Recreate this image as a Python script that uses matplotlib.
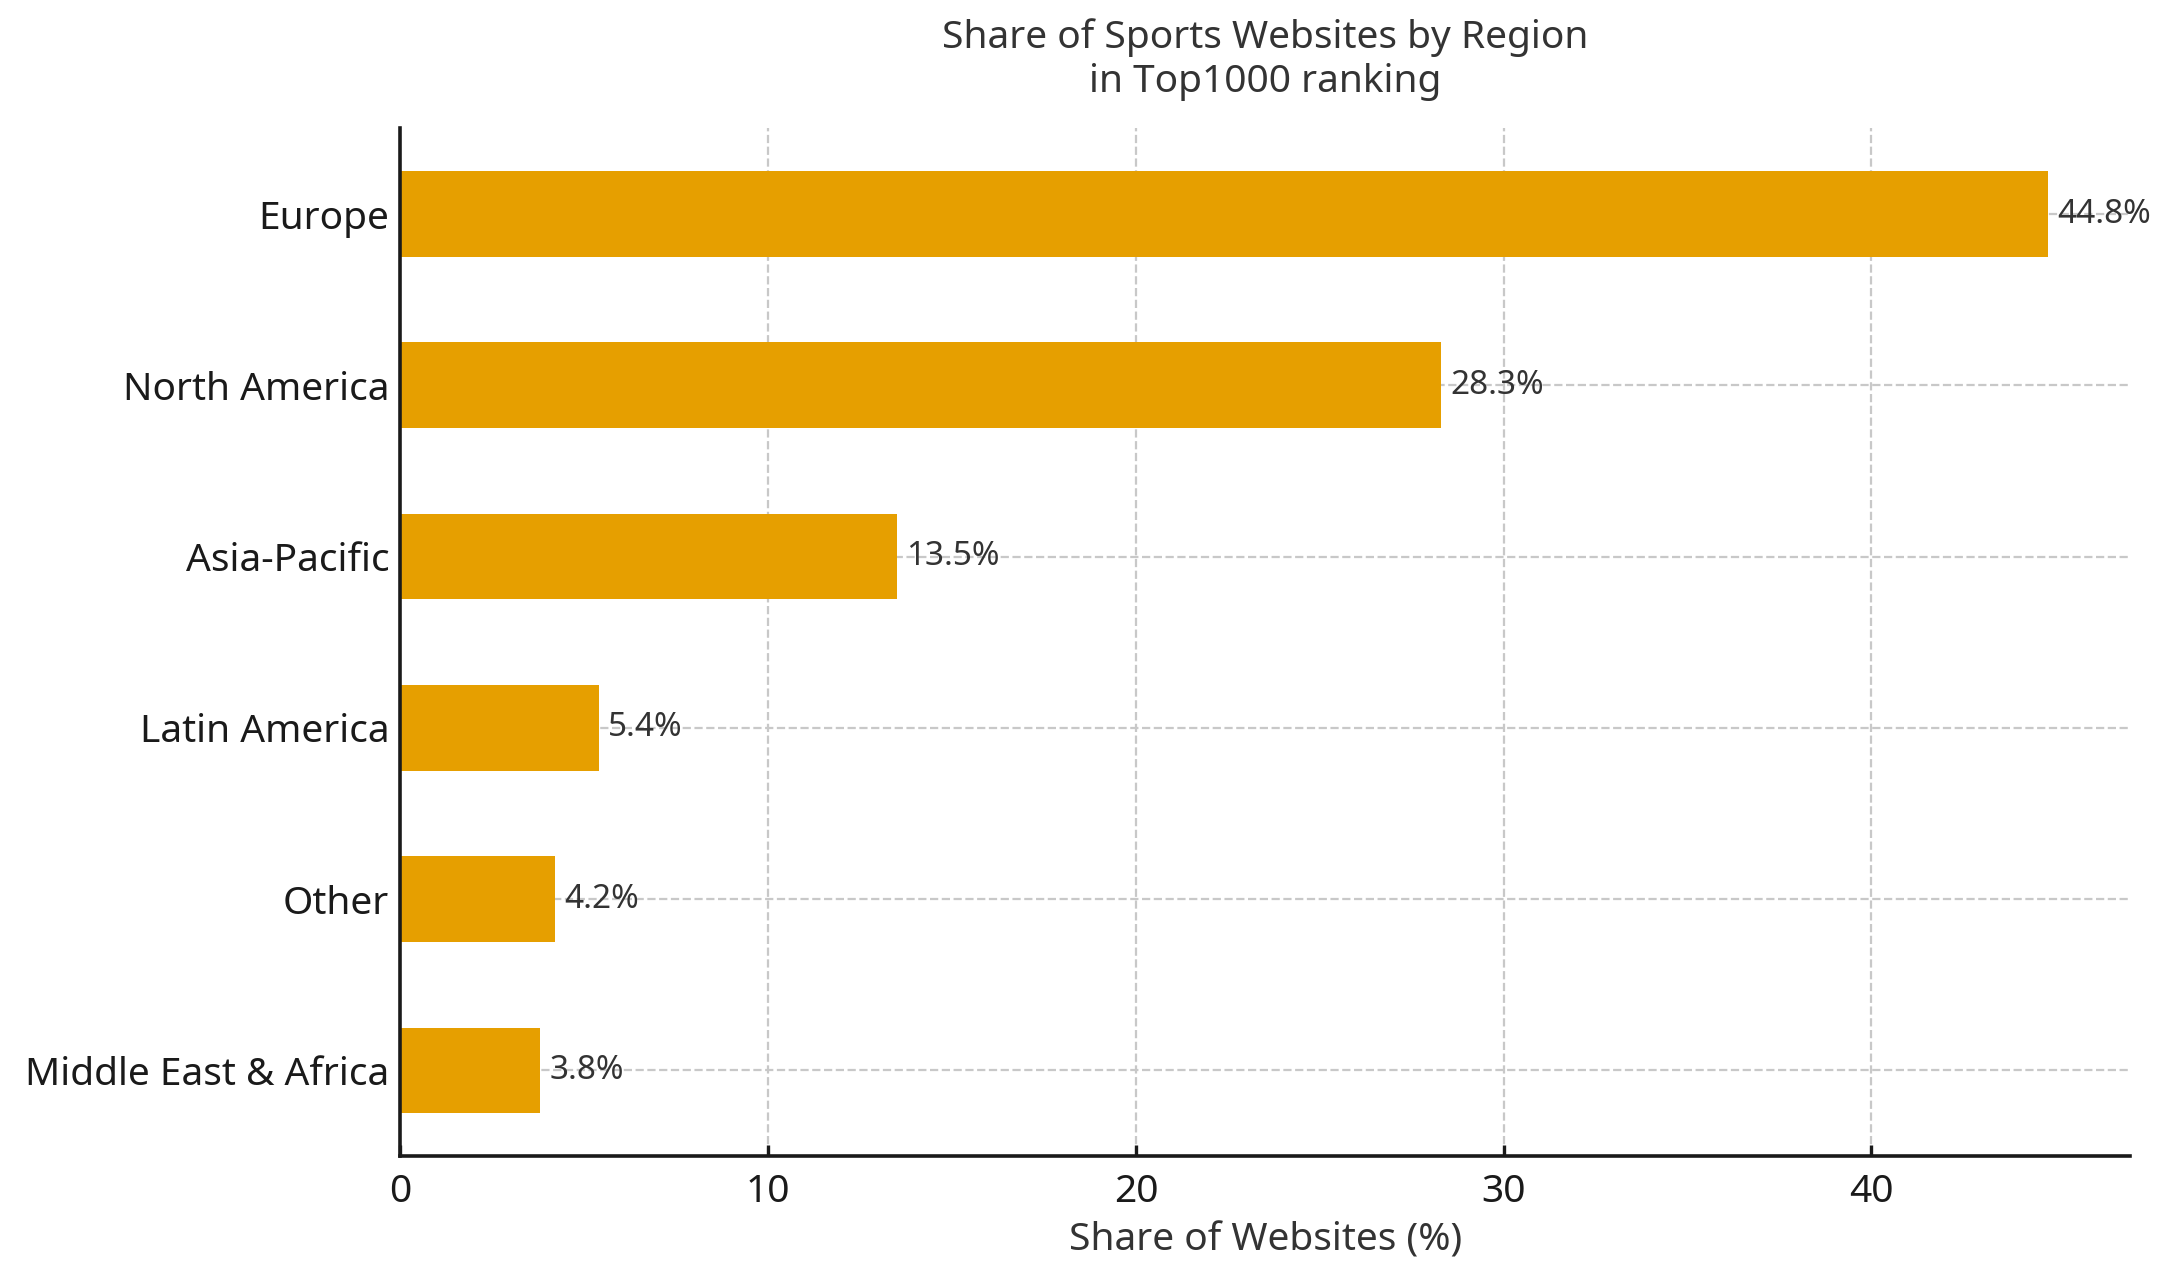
import matplotlib
matplotlib.use("Agg")
import matplotlib.pyplot as plt

regions = ["Europe", "North America", "Asia-Pacific", "Latin America", "Other", "Middle East & Africa"]
shares = [44.8, 28.3, 13.5, 5.4, 4.2, 3.8]
title = "Share of Sports Websites by Region\nin Top1000 ranking"
xlabel = "Share of Websites (%)"

plt.rcParams['font.family'] = ['Noto Sans', 'DejaVu Sans']

fig = plt.figure(figsize=(10.88, 6.375), dpi=200)
ax = fig.add_axes([0.184, 0.0933, 0.795, 0.806])

ypos = list(range(len(regions)))[::-1]
ax.barh(ypos, shares, height=0.5, color="#E69F00", zorder=2)
ax.set_yticks(ypos)
ax.set_yticklabels(regions, fontsize=14, color="#1a1a1a")
ax.set_ylim(-0.5, len(regions) - 0.5)
ax.set_xlim(0, max(shares) * 1.05)
ax.set_xticks([0, 10, 20, 30, 40])
ax.tick_params(axis='x', labelsize=14, colors="#1a1a1a", pad=6)
ax.tick_params(axis='y', pad=4)
ax.tick_params(axis='both', direction='in', length=4, width=1.2, color="#1a1a1a")

for y, v in zip(ypos, shares):
    ax.text(v + 0.25, y, f"{v}%", va="center", ha="left", fontsize=12, color="#333333", zorder=3)

ax.grid(True, linestyle="--", color="#c8c8c8", linewidth=0.8, zorder=0)
ax.set_axisbelow(True)
for s in ["top", "right"]:
    ax.spines[s].set_visible(False)
for s in ["left", "bottom"]:
    ax.spines[s].set_linewidth(1.3)
    ax.spines[s].set_color("#1a1a1a")

ax.set_xlabel(xlabel, fontsize=14, color="#333333", labelpad=4)
ax.set_title(title, fontsize=14, color="#333333", pad=13)

fig.savefig("out.png", dpi=200)
